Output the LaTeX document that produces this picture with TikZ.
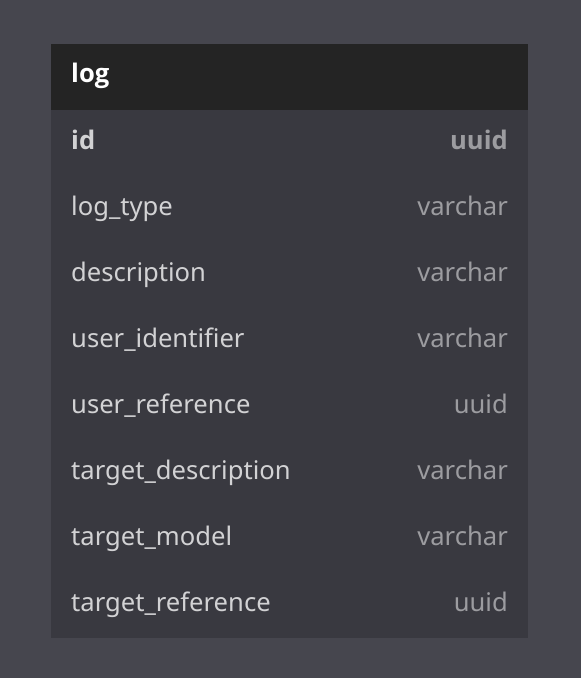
\documentclass[tikz,border=0pt]{standalone}
\usepackage{fontspec}
\setmainfont{Noto Sans}
\IfFontExistsTF{Noto Sans Bold}{\newfontfamily\bfont{Noto Sans Bold}}{\newfontfamily\bfont{Open Sans}[UprightFeatures={FakeBold=0}]\def\bfontextra{\bfseries}}
\providecommand\bfontextra{}
\definecolor{bgc}{HTML}{46464E}
\definecolor{bodyc}{HTML}{393940}
\definecolor{headc}{HTML}{242424}
\definecolor{namec}{HTML}{D2D2D4}
\definecolor{typec}{HTML}{9C9CA0}
\begin{document}
\begin{tikzpicture}[x=1pt,y=-1pt,
  fname/.style={anchor=base west,text=namec,inner sep=0pt,font=\fontsize{25.6}{30}\selectfont},
  ftype/.style={anchor=base east,text=typec,inner sep=0pt,font=\fontsize{25.6}{30}\selectfont},
  boldtxt/.style={font=\fontsize{25.6}{30}\bfont\bfontextra\selectfont},
  hdr/.style={anchor=base west,text=white,inner sep=0pt,boldtxt}]
\fill[bgc] (0,0) rectangle (581,678);
\useasboundingbox (0,0) rectangle (581,678);
\fill[bodyc] (51,44) rectangle (528,637.5);
\fill[headc] (51,44) rectangle (528,109.5);
\node[hdr] (title) at (71,82.5) {log};
\node[fname,boldtxt] (n1) at (71,149) {id};
\node[ftype,boldtxt] (t1) at (508,149) {uuid};
\foreach \i/\n/\t in {2/log\_type/varchar,3/description/varchar,4/user\_identifier/varchar,5/user\_reference/uuid,6/target\_description/varchar,7/target\_model/varchar,8/target\_reference/uuid}{
  \node[fname] (n\i) at (71,{149+(\i-1)*66}) {\n};
  \node[ftype] (t\i) at (508,{149+(\i-1)*66}) {\t};
}
\end{tikzpicture}
\end{document}
